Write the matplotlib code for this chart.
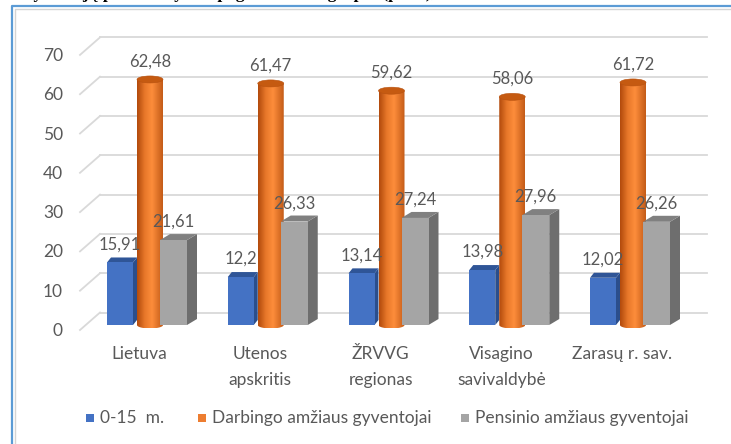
"""3D-style clustered column chart: population by age group (%)."""
import numpy as np
import matplotlib
matplotlib.use("Agg")
import matplotlib.pyplot as plt
from matplotlib.patches import Polygon, Ellipse, Rectangle, PathPatch
from matplotlib.path import Path
from matplotlib.lines import Line2D
from matplotlib.colors import LinearSegmentedColormap

categories = ["Lietuva", "Utenos\napskritis", "ŽRVVG\nregionas", "Visagino\nsavivaldybė", "Zarasų r. sav."]
series = ["0-15  m.", "Darbingo amžiaus gyventojai", "Pensinio amžiaus gyventojai"]
children = [15.91, 12.2, 13.14, 13.98, 12.02]
working = [62.48, 61.47, 59.62, 58.06, 61.72]
retired = [21.61, 26.33, 27.24, 27.96, 26.26]
yticks = [0, 10, 20, 30, 40, 50, 60, 70]

INK = "#595959"
GRID = "#D9D9D9"
BLUE = ("#4472C4", "#2F5597", "#2B4E8C")      # front, top, side
GRAY = ("#A5A5A5", "#808080", "#6E6E6E")
ORANGE_TOP = "#C55A11"
orange_cmap = LinearSegmentedColormap.from_list(
    "cyl", [(0, "#B24A0C"), (0.3, "#E8782A"), (0.58, "#FD8D3B"), (1, "#C45C18")])

W, H, DPI = 731, 444, 100
SX, SY = 120.75, 3.93          # px per category / px per unit
X0, Y0 = 107, 325              # pixel of first cluster left edge / value 0 (from top)
FONT = ["Lato", "DejaVu Sans"]
FS = 12.5


def dx(p):
    return p / SX


def dy(p):
    return p / SY


def fx(p):
    return p / W


def fy(p):
    return 1 - p / H


def box(ax, x, w, v, colors, depth=(9, 6)):
    ddx, ddy = dx(depth[0]), dy(depth[1])
    ax.add_patch(Polygon([(x + w, 0), (x + w + ddx, ddy), (x + w + ddx, v + ddy), (x + w, v)],
                         closed=True, facecolor=colors[2], edgecolor="none", zorder=3))
    ax.add_patch(Polygon([(x, v), (x + w, v), (x + w + ddx, v + ddy), (x + ddx, v + ddy)],
                         closed=True, facecolor=colors[1], edgecolor="none", zorder=3))
    ax.add_patch(Rectangle((x, 0), w, v, facecolor=colors[0], edgecolor="none", zorder=3))


def cylinder(ax, x, w, v, eh=dy(7)):
    xc = x + w / 2
    t = np.linspace(np.pi, 2 * np.pi, 40)
    arc = np.column_stack([xc + w / 2 * np.cos(t), eh / 2 * np.sin(t)])
    verts = np.vstack([[(x, v)], arc, [(x + w, v), (x, v)]])
    body = PathPatch(Path(verts, closed=True), facecolor="none", edgecolor="none", zorder=3)
    ax.add_patch(body)
    grad = np.linspace(0, 1, 64).reshape(1, -1)
    im = ax.imshow(grad, extent=(x, x + w, -eh / 2, v), aspect="auto", cmap=orange_cmap,
                   zorder=3, interpolation="bilinear")
    im.set_clip_path(body)
    ax.add_patch(Ellipse((xc, v), w, eh, facecolor=ORANGE_TOP, edgecolor="#B85210",
                         linewidth=0.4, zorder=3))


def fmt(v):
    return f"{v:g}".replace(".", ",")


def main():
    fig = plt.figure(figsize=(W / DPI, H / DPI), dpi=DPI)
    ax = fig.add_axes([0, 0, 1, 1])
    ax.axis("off")

    # caption line of the document above, cut off by the crop
    fig.text(fx(20), fy(-2.5), "Gyventojų pasiskirstymas pagal amžiaus grupes (proc.),",
             fontsize=12.5, weight="bold", family="Liberation Serif", va="baseline", color="black")

    # chart frame
    fig.add_artist(Line2D([fx(12), fx(12), fx(731)], [fy(444), fy(6.5), fy(6.5)],
                          color="#5B9BD5", linewidth=1.6))
    fig.add_artist(Line2D([fx(14.5), fx(14.5), fx(731)], [fy(444), fy(8.8), fy(8.8)],
                          color="#D4D4D4", linewidth=1.0))

    # gridlines: back wall + diagonal to the front edge
    for v in yticks:
        yb = v + dy(12.5)
        ax.plot([dx(100 - X0), dx(707 - X0)], [yb, yb], color=GRID, lw=1.3, zorder=1)
        ax.plot([dx(80 - X0), dx(100 - X0)], [v - dy(5), yb], color=GRID, lw=1.3, zorder=1)
        ax.text(dx(63 - X0), v - dy(6), str(v), ha="right", va="center",
                fontsize=FS, color=INK, family=FONT)

    w = dx(26)
    for i, cat in enumerate(categories):
        xb, xo, xg = i, i + dx(30), i + dx(53)
        box(ax, xb, w, children[i], BLUE, depth=(4, 5))
        cylinder(ax, xo, w, working[i])
        box(ax, xg, dx(27), retired[i], GRAY, depth=(10, 6))
        for xx, ww, v in ((xb, w, children[i]), (xo, w, working[i]), (xg, dx(27), retired[i])):
            ax.annotate(fmt(v), (xx + ww / 2, v), xytext=(0, 13), textcoords="offset points",
                        ha="center", va="center", fontsize=12, color=INK, family=FONT, zorder=5)
        ax.text(i + dx(32), -dy(346 - Y0), cat, ha="center", va="top", fontsize=FS,
                color=INK, family=FONT, linespacing=1.75)

    # legend
    colors = [BLUE[0], "#ED7D31", GRAY[0]]
    for lx, c, name in zip([86, 198, 461], colors, series):
        fig.add_artist(Rectangle((fx(lx), fy(422)), 8 / W, 8 / H, facecolor=c,
                                 edgecolor="none", transform=fig.transFigure))
        fig.text(fx(lx + 14), fy(418), name, ha="left", va="center", fontsize=FS,
                 color=INK, family=FONT)

    ax.set_xlim(-dx(X0), dx(W - X0))
    ax.set_ylim(-dy(H - Y0), dy(Y0))
    fig.savefig("out.png", dpi=DPI, facecolor="white")
    plt.close(fig)


if __name__ == "__main__":
    main()
